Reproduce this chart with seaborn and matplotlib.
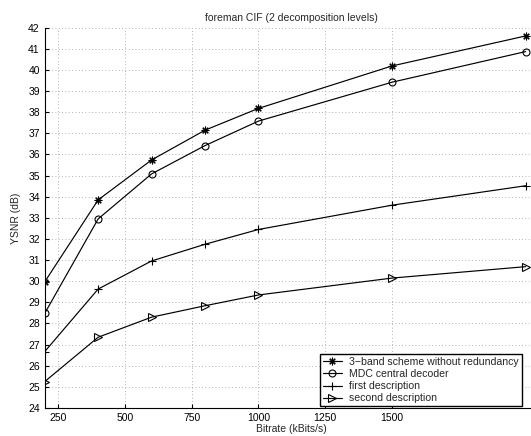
import pandas as pd
import numpy as np
import matplotlib.pyplot as plt
import seaborn as sns

# data
bitrate = [200, 400, 600, 800, 1000, 1500, 2000]
three_band = [29.97, 33.85, 35.74, 37.15, 38.18, 40.19, 41.61]
mdc_central = [28.48, 32.95, 35.08, 36.42, 37.58, 39.42, 40.87]
first_desc = [26.67, 29.63, 30.96, 31.75, 32.45, 33.60, 34.52]
second_desc = [25.25, 27.35, 28.30, 28.84, 29.35, 30.15, 30.69]

labels = ['3\u2212band scheme without redundancy', 'MDC central decoder',
          'first description', 'second description']
markers = [(8, 2, 0), 'o', '+', '>']
x_ticks = [250, 500, 750, 1000, 1250, 1500]
y_ticks = list(range(24, 43))

sns.set_style('ticks')
plt.rcParams['font.family'] = ['Liberation Sans', 'DejaVu Sans']

df = pd.DataFrame({
    'bitrate': bitrate * 4,
    'ysnr': three_band + mdc_central + first_desc + second_desc,
    'scheme': sum([[l] * len(bitrate) for l in labels], []),
})

fig = plt.figure(figsize=(5.31, 4.36), dpi=100)
ax = fig.add_axes([0.0842, 0.0642, 0.93, 0.8723])

for lab, mk in zip(labels, markers):
    sub = df[df['scheme'] == lab]
    sns.lineplot(data=sub, x='bitrate', y='ysnr', ax=ax, color='black',
                 linewidth=0.85, marker=mk, markersize=5.5 if mk != 'o' else 5,
                 markerfacecolor='none' if mk in ('o', '>') else 'black',
                 markeredgecolor='black', markeredgewidth=0.8, label=lab)

ax.set_xlim(200, 2048)
ax.set_ylim(24, 42)
ax.set_xticks(x_ticks)
ax.set_yticks(y_ticks)
ax.tick_params(direction='in', labelsize=7.5, length=3, width=0.8, colors='black')
ax.grid(True, linestyle=(0, (1, 3)), color='#999999', linewidth=0.6)
ax.spines['top'].set_visible(False)
ax.spines['right'].set_visible(False)
for s in ax.spines.values():
    s.set_linewidth(0.8)
    s.set_color('black')

ax.set_xlabel('Bitrate (kBits/s)', fontsize=7.5, labelpad=1)
ax.set_ylabel('YSNR (dB)', fontsize=7.5, labelpad=5)
ax.set_title('foreman CIF (2 decomposition levels)', fontsize=7.5, pad=5)

leg = ax.legend(loc='lower right', bbox_to_anchor=(0.9666, 0.004), fontsize=7.6,
                frameon=True, fancybox=False, edgecolor='black',
                borderpad=0.3, labelspacing=0.2, handlelength=1.8,
                handletextpad=0.7, borderaxespad=0)
leg.get_frame().set_linewidth(1.0)
leg.get_frame().set_alpha(1)

plt.savefig('out.png', dpi=100)
